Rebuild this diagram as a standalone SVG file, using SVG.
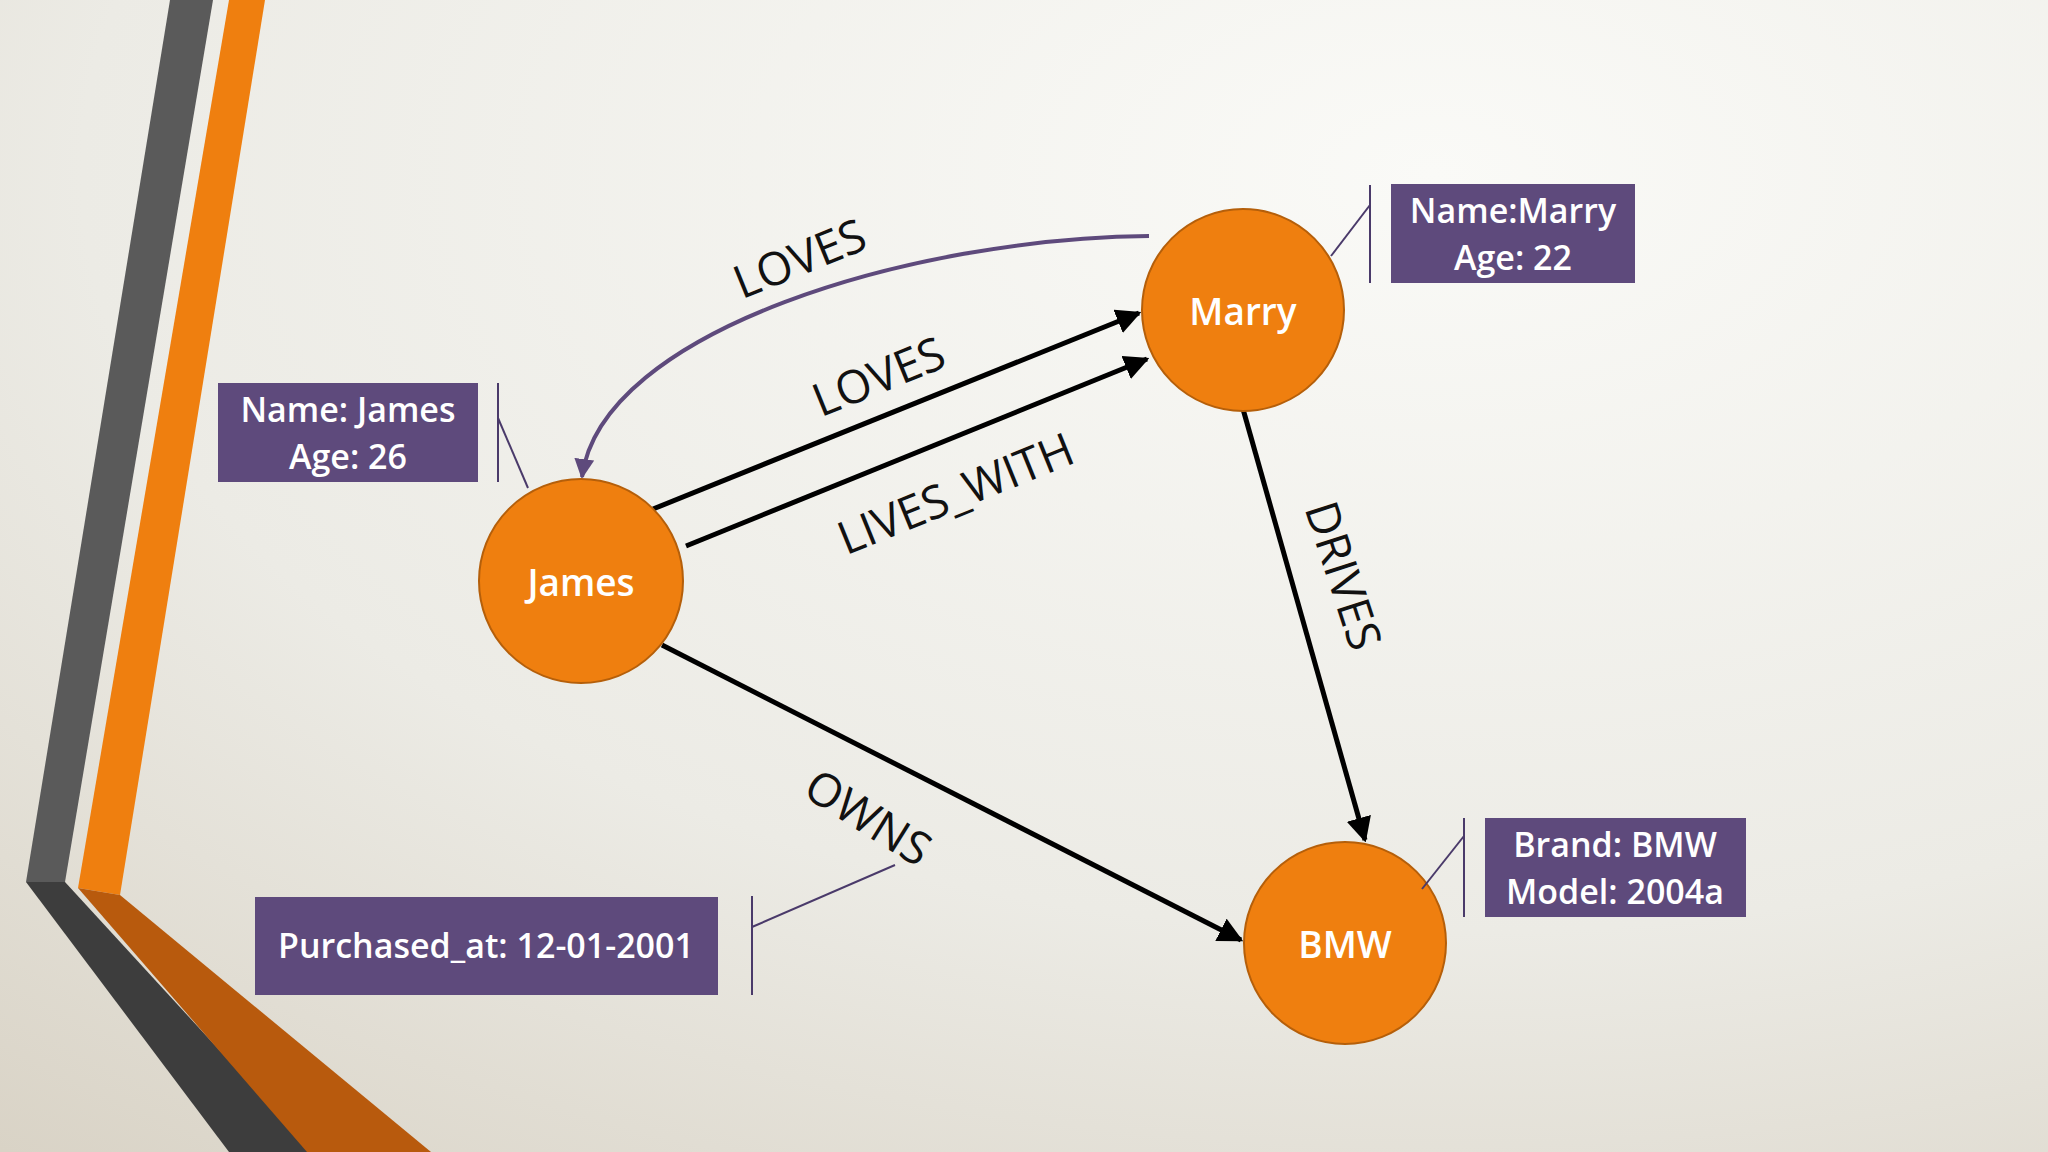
<svg xmlns="http://www.w3.org/2000/svg" width="2048" height="1152" viewBox="0 0 2048 1152">
<defs>
<radialGradient id="bg" cx="0.7" cy="0.15" r="1.1">
<stop offset="0" stop-color="#fafaf7"/><stop offset="0.6" stop-color="#ecebe5"/><stop offset="1" stop-color="#d9d3c6"/>
</radialGradient>
<marker id="ah" viewBox="0 0 10 10" refX="9" refY="5" markerWidth="5" markerHeight="5" orient="auto"><path d="M0,0L10,5L0,10z" fill="#000"/></marker>
<marker id="ahp" viewBox="0 0 10 10" refX="9" refY="5" markerWidth="5" markerHeight="5" orient="auto"><path d="M0,0L10,5L0,10z" fill="#5e4a7c"/></marker>
<style>
.node circle{fill:#ef7f0f;stroke:#b55f0a;stroke-width:2}
.node text{fill:#fff;font-family:"Open Sans","Noto Sans",sans-serif;font-size:37px;font-weight:600;text-anchor:middle;dominant-baseline:central}
.box rect{fill:#5e4a7c}
.box text{fill:#fff;font-family:"Open Sans","Noto Sans",sans-serif;font-size:34px;font-weight:600;text-anchor:middle}
.box line{stroke:#4a3a6a;stroke-width:2}
.e{stroke:#000;stroke-width:5;fill:none;marker-end:url(#ah)}
.lbl{fill:#111;font-family:"Open Sans","Noto Sans",sans-serif;font-size:46px;text-anchor:middle;dominant-baseline:central}
</style>
</defs>
<rect width="2048" height="1152" fill="url(#bg)"/>
<polygon points="170,0 213,0 65,882 26,882" fill="#5a5a5a"/>
<polygon points="229,0 265,0 120,895 78,888" fill="#ef7f0f"/>
<polygon points="26,882 65,882 313,1152 229,1152" fill="#3d3d3d"/>
<polygon points="78,888 120,895 431,1152 307,1152" fill="#b85a0d"/>
<g id="connectors">
<path d="M1149,236 C914,238 601,330 582,477" stroke="#5e4a7c" stroke-width="4" fill="none" marker-end="url(#ahp)"/>
<line class="e" x1="653" y1="509" x2="1139" y2="313"/>
<line class="e" x1="686" y1="546" x2="1147" y2="359"/>
<line class="e" x1="1243" y1="409" x2="1365" y2="840"/>
<line class="e" x1="662" y1="645" x2="1241" y2="940"/>
<text class="lbl" transform="translate(799,257) rotate(-22)">LOVES</text>
<text class="lbl" transform="translate(878,375) rotate(-22)">LOVES</text>
<text class="lbl" transform="translate(955,492) rotate(-22)">LIVES_WITH</text>
<text class="lbl" transform="translate(1345,575) rotate(72)">DRIVES</text>
<text class="lbl" transform="translate(869,816) rotate(32)">OWNS</text>
</g>
<g id="james" class="node"><circle cx="581" cy="581" r="102"/><text x="581" y="581">James</text></g>
<g id="marry" class="node"><circle cx="1243" cy="310" r="101"/><text x="1243" y="310">Marry</text></g>
<g id="bmw" class="node"><circle cx="1345" cy="943" r="101"/><text x="1345" y="943">BMW</text></g>
<g id="james-props" class="box"><rect x="218" y="383" width="260" height="99"/><text x="348" y="422">Name: James</text><text x="348" y="469">Age: 26</text><line x1="498" y1="383" x2="498" y2="482"/><line x1="498" y1="418" x2="528" y2="488"/></g>
<g id="marry-props" class="box"><rect x="1391" y="184" width="244" height="99"/><text x="1513" y="223">Name:Marry</text><text x="1513" y="270">Age: 22</text><line x1="1370" y1="185" x2="1370" y2="283"/><line x1="1370" y1="205" x2="1331" y2="256"/></g>
<g id="bmw-props" class="box"><rect x="1485" y="818" width="261" height="99"/><text x="1615" y="857">Brand: BMW</text><text x="1615" y="904">Model: 2004a</text><line x1="1464" y1="818" x2="1464" y2="917"/><line x1="1464" y1="836" x2="1422" y2="889"/></g>
<g id="owns-props" class="box"><rect x="255" y="897" width="463" height="98"/><text x="486" y="958">Purchased_at: 12-01-2001</text><line x1="752" y1="896" x2="752" y2="995"/><line x1="752" y1="927" x2="895" y2="865"/></g>
</svg>
